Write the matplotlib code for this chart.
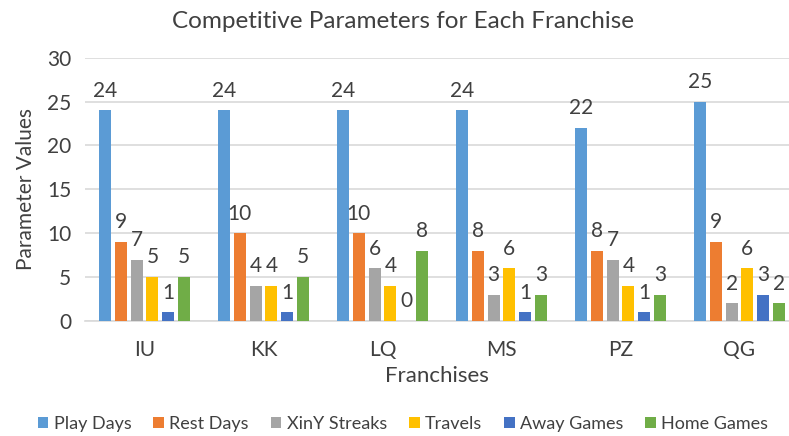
import matplotlib
matplotlib.use("Agg")
import matplotlib.pyplot as plt
import numpy as np

plt.rcParams['font.family'] = ['Lato', 'DejaVu Sans']

categories = ["IU", "KK", "LQ", "MS", "PZ", "QG"]
series_names = ["Play Days", "Rest Days", "XinY Streaks", "Travels", "Away Games", "Home Games"]
play_days = [24, 24, 24, 24, 22, 25]
rest_days = [9, 10, 10, 8, 8, 9]
xiny_streaks = [7, 4, 6, 3, 7, 2]
travels = [5, 4, 4, 6, 4, 6]
away_games = [1, 1, 0, 1, 1, 3]
home_games = [5, 5, 8, 3, 3, 2]
series = [play_days, rest_days, xiny_streaks, travels, away_games, home_games]
colors = ["#5B9BD5", "#ED7D31", "#A5A5A5", "#FFC000", "#4472C4", "#70AD47"]

W, H = 789, 436
fig = plt.figure(figsize=(W / 100, H / 100), dpi=100)
left, right_px = 85, 789
cat_px = 119.0
ax = fig.add_axes([left / W, 1 - 321 / H, (right_px - left) / W, (321 - 57.7) / H])

x = np.arange(len(categories))
step = 0.133
bw = 0.10
text_col = "#404040"
for i, (vals, name, c) in enumerate(zip(series, series_names, colors)):
    pos = x + (i - 2.5) * step
    ax.bar(pos, vals, width=bw, color=c, label=name, zorder=3)
    for p, v in zip(pos, vals):
        ax.annotate(str(v), (p, v), xytext=(0, 7), textcoords="offset points",
                    ha="center", va="bottom", fontsize=15, color=text_col)

# plot area extends slightly beyond the right image edge (cropped)
ax.set_xlim(-0.5, -0.5 + (right_px - left) / cat_px)
ax.set_ylim(0, 30)
ax.set_yticks(np.arange(0, 31, 5))
ax.set_xticks(x)
ax.set_xticklabels(categories)
ax.grid(axis="y", color="#D9D9D9", linewidth=1.2, zorder=0)
ax.tick_params(axis="both", length=0, labelsize=15, colors=text_col)
ax.tick_params(axis="y", pad=10)
ax.tick_params(axis="x", pad=14)
for s in ["top", "right", "left"]:
    ax.spines[s].set_visible(False)
ax.spines["bottom"].set_color("#D9D9D9")
ax.spines["bottom"].set_linewidth(1.2)

ax.set_xlabel("Franchises", fontsize=16, color=text_col, labelpad=4)
ax.set_ylabel("Parameter Values", fontsize=15, color=text_col, labelpad=8)
fig.text(403 / W, 1 - 21 / H, "Competitive Parameters for Each Franchise",
         ha="center", va="center", fontsize=17.5, color=text_col)

fig.legend(loc="center", bbox_to_anchor=(403 / W, 1 - 424 / H), ncol=6,
           frameon=False, fontsize=13, handlelength=0.6, handleheight=0.6,
           handletextpad=0.3, columnspacing=1.2, labelcolor=text_col)

fig.savefig("out.png", dpi=100)
